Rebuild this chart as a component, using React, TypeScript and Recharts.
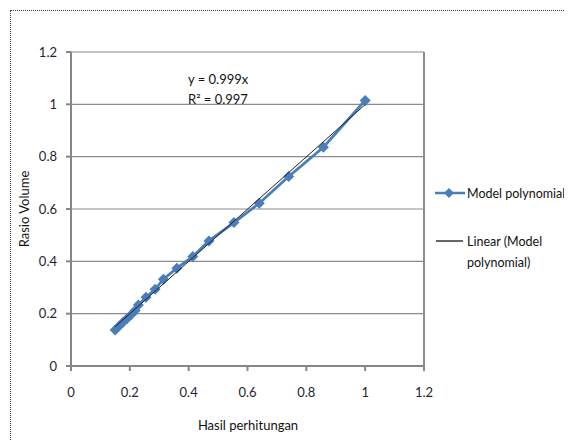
import { ScatterChart, Scatter, XAxis, YAxis, CartesianGrid, ReferenceLine } from 'recharts'

// measured points: hasil perhitungan (x) vs rasio volume (y)
const hasilPerhitungan = [0.150, 0.163, 0.176, 0.190, 0.205, 0.218, 0.229, 0.255, 0.286, 0.314, 0.360, 0.414, 0.469, 0.554, 0.640, 0.740, 0.858, 1.0]
const rasioVolume = [0.138, 0.152, 0.166, 0.181, 0.197, 0.212, 0.233, 0.263, 0.293, 0.332, 0.374, 0.418, 0.478, 0.548, 0.622, 0.724, 0.836, 1.015]

// linear trend line y = 0.999x, endpoints over the data range
const trendX = [0.150, 1.0]
const trendY = [0.150, 0.999]

const axisTicks = [0, 0.2, 0.4, 0.6, 0.8, 1, 1.2]

const BLUE = '#4a7ebb'
const FONT = 'Lato, "Liberation Sans", Arial, sans-serif'

const modelData = hasilPerhitungan.map((x, i) => ({ x, y: rasioVolume[i] }))
const trendData = trendX.map((x, i) => ({ x, y: trendY[i] }))

const Diamond = (props: any) => {
  const { cx, cy } = props
  const r = 5.5
  return <polygon points={`${cx},${cy - r} ${cx + r},${cy} ${cx},${cy + r} ${cx - r},${cy}`} fill={BLUE} />
}

const NoDot = () => null

export default function App() {
  return (
    <div style={{ position: 'relative', width: 564, height: 433, overflow: 'hidden', fontFamily: FONT }}>
      <div style={{ position: 'absolute', left: 2, top: 2, width: 600, height: 500, border: '1px dotted #444' }} />
      <ScatterChart width={564} height={433} margin={{ top: 44, right: 148, bottom: 45, left: 0 }}>
        <CartesianGrid vertical={false} stroke="#8c8c8c" strokeWidth={1.2} />
        <ReferenceLine x={1.2} stroke="#8c8c8c" strokeWidth={2} />
        <XAxis
          type="number"
          dataKey="x"
          domain={[0, 1.2]}
          ticks={axisTicks}
          height={30}
          stroke="#868686"
          strokeWidth={2}
          tickSize={5}
          tickMargin={17}
          tick={{ fontSize: 13, fill: '#1f1f2f', fontFamily: FONT }}
          allowDataOverflow
        />
        <YAxis
          type="number"
          dataKey="y"
          domain={[0, 1.2]}
          ticks={axisTicks}
          width={63}
          stroke="#868686"
          strokeWidth={2}
          tickSize={5}
          tickMargin={9}
          tick={{ fontSize: 13, fill: '#1f1f2f', fontFamily: FONT }}
          allowDataOverflow
        />
        <Scatter
          name="Model polynomial"
          data={modelData}
          line={{ stroke: BLUE, strokeWidth: 2.8 }}
          shape={<Diamond />}
          isAnimationActive={false}
        />
        <Scatter
          name="Linear (Model polynomial)"
          data={trendData}
          line={{ stroke: '#222', strokeWidth: 1 }}
          shape={<NoDot />}
          isAnimationActive={false}
        />
      </ScatterChart>

      {/* regression equation */}
      <div style={{ position: 'absolute', left: 180, top: 61, fontSize: 13, lineHeight: '20px', color: '#111' }}>
        <div>y = 0.999x</div>
        <div>R² = 0.997</div>
      </div>

      {/* axis titles */}
      <div style={{ position: 'absolute', left: 240, top: 409, fontSize: 13, color: '#111', whiteSpace: 'nowrap', transform: 'translateX(-50%)' }}>
        Hasil perhitungan
      </div>
      <div style={{ position: 'absolute', left: 16, top: 201, fontSize: 13, color: '#111', whiteSpace: 'nowrap', transform: 'translate(-50%, -50%) rotate(-90deg)' }}>
        Rasio Volume
      </div>

      {/* legend */}
      <div style={{ position: 'absolute', left: 426, top: 175, fontSize: 12.5, color: '#111', whiteSpace: 'nowrap' }}>
        <div style={{ display: 'flex', alignItems: 'center', height: 20 }}>
          <svg width={33} height={12}>
            <line x1={1} y1={6} x2={31} y2={6} stroke={BLUE} strokeWidth={2.5} />
            <polygon points="15,1 20,6 15,11 10,6" fill={BLUE} />
          </svg>
          <span>Model polynomial</span>
        </div>
        <div style={{ display: 'flex', alignItems: 'flex-start', marginTop: 28 }}>
          <svg width={33} height={12} style={{ marginTop: 4 }}>
            <line x1={2} y1={6} x2={29} y2={6} stroke="#333" strokeWidth={1.5} />
          </svg>
          <span style={{ lineHeight: '21px' }}>Linear (Model<br />polynomial)</span>
        </div>
      </div>
    </div>
  )
}
